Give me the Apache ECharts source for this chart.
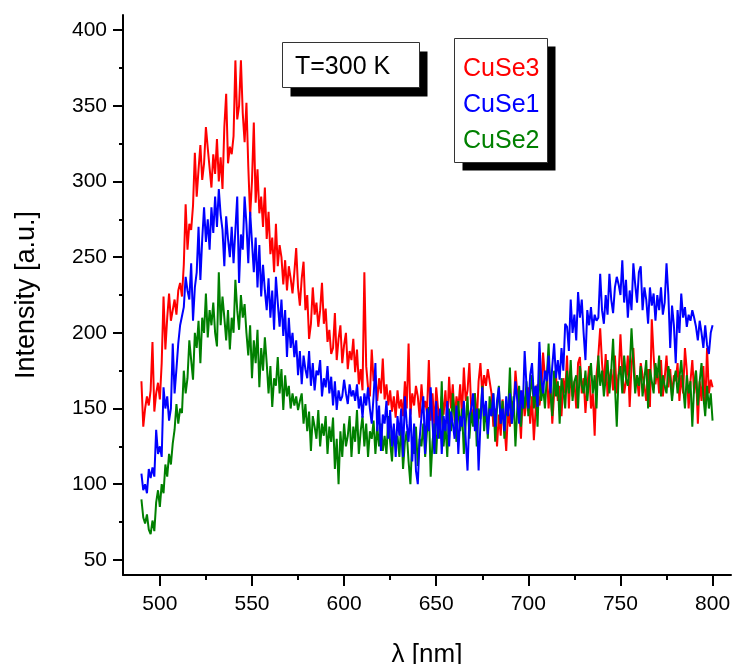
<!DOCTYPE html>
<html>
<head>
<meta charset="UTF-8">
<title>CuSe PL spectra</title>
<script src="https://cdn.jsdelivr.net/npm/echarts@6/dist/echarts.min.js"></script>
<style>
  html, body { margin: 0; padding: 0; background: #fff; }
  #main { width: 732px; height: 664px; }
</style>
</head>
<body>
<div id="main"></div>
<script>
// wavelength axis: first sample and step (nm)
const lambdaStart = 490;
const lambdaStep = 1;

// intensity readings, one per nm from 490 to 800
const cuse3 = [
  168, 138, 150, 158, 152, 162, 194, 148, 160, 167,
  156, 180, 224, 189, 210, 226, 208, 215, 222, 212,
  228, 233, 224, 245, 285, 255, 272, 268, 284, 319,
  290, 308, 324, 301, 312, 336, 322, 309, 296, 318,
  305, 328, 300, 316, 295, 336, 358, 312, 323, 318,
  330, 380, 341, 350, 380, 345, 326, 352, 310, 277,
  300, 339, 286, 308, 279, 290, 270, 296, 262, 280,
  252, 263, 240, 272, 244, 258, 250, 232, 248, 228,
  244, 236, 226, 240, 256, 230, 218, 236, 247, 215,
  225, 196, 206, 230, 212, 220, 204, 215, 233, 206,
  216, 194, 202, 186, 190, 213, 182, 196, 205, 180,
  192, 200, 176, 188, 182, 196, 174, 189, 166, 176,
  162, 240, 178, 164, 158, 189, 168, 172, 155, 170,
  160, 183, 156, 166, 152, 162, 148, 158, 144, 162,
  150, 156, 145, 168, 150, 193, 146, 160, 152, 165,
  158, 144, 166, 150, 155, 147, 182, 142, 160, 138,
  164, 150, 133, 158, 146, 162, 140, 171, 150, 166,
  142, 158, 150, 166, 145, 177, 155, 162, 180, 150,
  145, 160, 140, 168, 180, 160, 172, 165, 176, 168,
  160, 138, 150, 125, 146, 132, 156, 140, 122, 150,
  138, 155, 148, 175, 160, 150, 130, 162, 145, 155,
  164, 140, 158, 129, 150, 166, 152, 160, 187, 170,
  175, 150, 168, 140, 160, 172, 155, 165, 145, 170,
  160, 185, 150, 175, 158, 168, 150, 180, 184, 160,
  170, 147, 165, 178, 150, 160, 132, 172, 185, 203,
  180, 165, 186, 158, 170, 176, 162, 185, 160, 172,
  199, 175, 160, 168, 185, 151, 178, 190, 165, 170,
  158, 180, 172, 165, 155, 176, 151, 209, 185, 166,
  176, 160, 182, 158, 170, 185, 164, 176, 158, 172,
  168, 180, 155, 172, 160, 190, 175, 150, 168, 182,
  160, 175, 140, 168, 155, 178, 150, 190, 160, 169,
  164
];

const cuse1 = [
  107, 96, 100, 94, 110, 104, 111, 105, 136, 120,
  125, 118, 164, 150, 158, 142, 150, 193, 160, 176,
  193, 205, 211, 217, 237, 228, 222, 246, 208, 230,
  240, 270, 235, 262, 283, 260, 275, 255, 283, 266,
  290, 270, 295, 278, 268, 244, 277, 262, 250, 270,
  246, 268, 290, 233, 265, 255, 290, 272, 246, 280,
  260, 240, 263, 230, 258, 224, 245, 228, 215, 236,
  210, 228, 202, 237, 220, 204, 222, 198, 215, 184,
  210, 190, 200, 184, 195, 172, 188, 166, 185, 176,
  170, 188, 165, 180, 162, 175, 172, 182, 158, 170,
  164, 178, 160, 171, 152, 168, 149, 162, 155, 158,
  169, 160, 153, 166, 158, 162, 155, 166, 150, 158,
  144, 160, 152, 164, 150, 140, 158, 180, 135, 152,
  122, 146, 140, 155, 130, 149, 125, 140, 118, 145,
  132, 150, 118, 158, 140, 128, 150, 115, 140, 109,
  100, 130, 145, 158, 120, 150, 135, 164, 140, 120,
  155, 130, 150, 120, 145, 135, 155, 125, 148, 140,
  130, 152, 120, 145, 138, 155, 130, 109, 145, 150,
  160, 135, 150, 109, 140, 164, 145, 155, 133, 150,
  145, 160, 138, 155, 164, 140, 150, 135, 158, 145,
  160, 140, 150, 168, 155, 140, 162, 150, 188, 165,
  150, 172, 180, 158, 165, 151, 194, 170, 160, 175,
  168, 185, 160, 178, 193, 170, 182, 169, 190, 175,
  206, 204, 188, 222, 200, 212, 195, 227, 210, 222,
  200, 182, 215, 205, 217, 202, 212, 208, 210, 239,
  215, 206, 225, 212, 239, 222, 213, 230, 237, 232,
  225, 248, 220, 235, 210, 228, 215, 246, 232, 220,
  240, 244, 215, 230, 222, 206, 230, 218, 226, 208,
  225, 215, 230, 212, 220, 246, 225, 190, 218, 205,
  180, 215, 200, 226, 210, 217, 204, 212, 208, 215,
  210, 204, 195, 208, 200, 190, 205, 192, 186, 200,
  205
];

const cuse2 = [
  90, 78, 74, 80, 70, 67, 76, 69, 88, 96,
  85, 100, 94, 113, 105, 120, 113, 127, 136, 153,
  140, 150, 147, 175, 160, 170, 195, 182, 169, 200,
  190, 208, 180, 210, 200, 226, 197, 215, 205, 220,
  200, 191, 240, 205, 224, 210, 195, 215, 189, 210,
  200, 235, 215, 202, 225, 210, 219, 200, 185, 205,
  170, 195, 180, 202, 164, 190, 175, 197, 180, 160,
  178, 151, 170, 165, 184, 160, 176, 149, 172, 158,
  165, 150, 160, 152, 158, 149, 155, 160, 140, 153,
  135, 148, 122, 145, 138, 130, 149, 125, 140, 132,
  145, 120, 138, 128, 144, 110, 130, 100, 135, 118,
  140, 125, 132, 145, 118, 138, 128, 149, 120, 135,
  145, 125, 140, 118, 135, 130, 142, 120, 138, 125,
  140, 122, 132, 120, 145, 128, 115, 138, 125, 132,
  118, 140, 110, 128, 135, 115, 100, 130, 120, 138,
  112, 130, 125, 140, 118, 135, 151, 105, 128, 140,
  120, 145, 130, 168, 125, 140, 118, 150, 135, 160,
  145, 128, 155, 135, 150, 120, 140, 158, 130, 148,
  138, 160, 125, 150, 143, 165, 135, 152, 130, 158,
  145, 160, 128, 150, 165, 140, 155, 130, 150, 145,
  177, 140, 158, 125, 150, 165, 138, 160, 150, 168,
  145, 160, 172, 150, 165, 138, 178, 155, 165, 150,
  170, 193, 160, 145, 175, 158, 168, 140, 170, 162,
  150, 175, 160, 182, 155, 168, 172, 150, 178, 165,
  160, 175, 155, 170, 180, 160, 172, 150, 185, 165,
  175, 158, 170, 182, 160, 175, 196, 165, 138, 172,
  178, 160, 185, 170, 165, 176, 203, 180, 160, 172,
  165, 178, 158, 170, 182, 150, 176, 168, 160, 180,
  170, 185, 158, 172, 165, 160, 178, 170, 155, 168,
  175, 160, 170, 182, 165, 150, 172, 160, 168, 138,
  165, 175, 152, 168, 180, 158, 145, 165, 150, 160,
  142
];

const xMajorTicks = [500, 550, 600, 650, 700, 750, 800];
const xMinorTicks = [525, 575, 625, 675, 725, 775];
const yMajorTicks = [50, 100, 150, 200, 250, 300, 350, 400];
const yMinorTicks = [75, 125, 175, 225, 275, 325, 375];

const FONT = '"Liberation Sans", Arial, sans-serif';

function toPairs(values) {
  return values.map((v, i) => [lambdaStart + i * lambdaStep, v]);
}

// white framed box with a hard black drop shadow (Origin style)
function shadowBox(x, y, w, h, dx, dy) {
  return [
    { type: 'rect', z: 1, shape: { x: x + dx, y: y + dy, width: w, height: h }, style: { fill: '#000' } },
    { type: 'rect', z: 2, shape: { x: x, y: y, width: w, height: h }, style: { fill: '#fff', stroke: '#333', lineWidth: 1 } }
  ];
}

const axisColor = '#000';

const chart = echarts.init(document.getElementById('main'));
chart.setOption({
  animation: false,
  backgroundColor: '#fff',
  grid: { left: 123, top: 15, right: 1, bottom: 89, containLabel: false, outerBoundsMode: 'none' },
  graphic: [].concat(
    shadowBox(282.5, 42.5, 137, 45, 8, 9),
    shadowBox(454.5, 38.5, 93, 124, 8, 8)
  ),
  title: {
    text: 'T=300 K',
    left: 282,
    top: 45,
    padding: [10, 29, 10, 13],
    z: 10,
    textStyle: { fontSize: 25, fontWeight: 'normal', color: '#000', fontFamily: FONT }
  },
  legend: {
    orient: 'vertical',
    left: 454,
    top: 41,
    icon: 'none',
    itemWidth: 0,
    itemHeight: 30,
    itemGap: 8.5,
    padding: [13, 8, 9, 4],
    selectedMode: false,
    z: 10,
    textStyle: { fontSize: 25, fontFamily: FONT },
    data: [
      { name: 'CuSe3', textStyle: { color: '#ff0000' } },
      { name: 'CuSe1', textStyle: { color: '#0000ff' } },
      { name: 'CuSe2', textStyle: { color: '#008000' } }
    ]
  },
  xAxis: [
    {
      type: 'value',
      position: 'bottom',
      min: 480,
      max: 810,
      name: 'λ [nm]',
      nameLocation: 'middle',
      nameGap: 67,
      nameTextStyle: { fontSize: 26, color: '#000', fontFamily: FONT },
      axisLine: { show: true, onZero: false, lineStyle: { color: axisColor, width: 2 } },
      axisTick: { show: true, inside: false, length: 11, customValues: xMajorTicks, lineStyle: { color: axisColor, width: 2 } },
      axisLabel: { customValues: xMajorTicks, fontSize: 21, color: '#000', margin: 19, fontFamily: FONT },
      splitLine: { show: false }
    },
    {
      type: 'value',
      position: 'bottom',
      min: 480,
      max: 810,
      axisLine: { show: false, onZero: false },
      axisTick: { show: true, inside: false, length: 5, customValues: xMinorTicks, lineStyle: { color: axisColor, width: 2 } },
      axisLabel: { show: false },
      splitLine: { show: false }
    }
  ],
  yAxis: [
    {
      type: 'value',
      position: 'left',
      min: 40,
      max: 410,
      name: 'Intensity [a.u.]',
      nameLocation: 'middle',
      nameGap: 83,
      nameTextStyle: { fontSize: 27, color: '#000', fontFamily: FONT },
      axisLine: { show: true, onZero: false, lineStyle: { color: axisColor, width: 2 } },
      axisTick: { show: true, inside: false, length: 10, customValues: yMajorTicks, lineStyle: { color: axisColor, width: 2 } },
      axisLabel: { customValues: yMajorTicks, fontSize: 21, color: '#000', margin: 16, fontFamily: FONT },
      splitLine: { show: false }
    },
    {
      type: 'value',
      position: 'left',
      min: 40,
      max: 410,
      axisLine: { show: false, onZero: false },
      axisTick: { show: true, inside: false, length: 4, customValues: yMinorTicks, lineStyle: { color: axisColor, width: 2 } },
      axisLabel: { show: false },
      splitLine: { show: false }
    }
  ],
  series: [
    {
      name: 'CuSe3', type: 'line', showSymbol: false, xAxisIndex: 0, yAxisIndex: 0,
      lineStyle: { color: '#ff0000', width: 2 }, itemStyle: { color: '#ff0000' },
      data: toPairs(cuse3)
    },
    {
      name: 'CuSe2', type: 'line', showSymbol: false, xAxisIndex: 0, yAxisIndex: 0,
      lineStyle: { color: '#008000', width: 2 }, itemStyle: { color: '#008000' },
      data: toPairs(cuse2)
    },
    {
      name: 'CuSe1', type: 'line', showSymbol: false, xAxisIndex: 0, yAxisIndex: 0,
      lineStyle: { color: '#0000ff', width: 2 }, itemStyle: { color: '#0000ff' },
      data: toPairs(cuse1)
    }
  ]
});
</script>
</body>
</html>
